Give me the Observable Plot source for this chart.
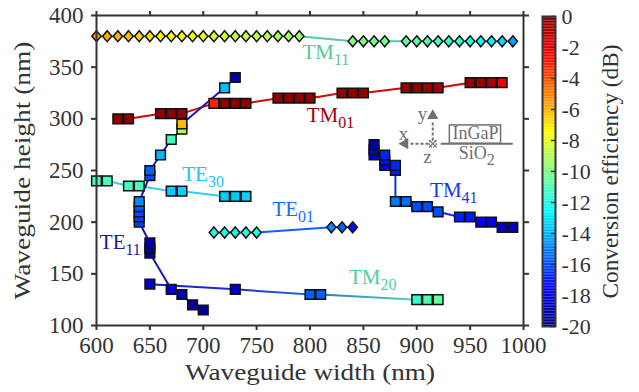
<!DOCTYPE html>
<html>
<head>
<meta charset="utf-8">
<script src="https://cdn.jsdelivr.net/npm/d3@7"></script>
<script src="https://cdn.jsdelivr.net/npm/@observablehq/plot@0.6"></script>
<style>
  html, body { margin: 0; padding: 0; background: #fff; }
  #wrap { position: relative; width: 639px; height: 392px; }
</style>
</head>
<body>
<div id="wrap"></div>
<script>
// ---------------- data ----------------
// TM11 (diamonds)
const TM11_w  = [600,610,620,630,640,650,660,670,680,690,700,710,720,730,740,750,760,770,780,790, 840,850,860,870, 890,900,910,920,930,940,950,960,970,980,990];
const TM11_h  = [380,380,380,380,380,380,380,380,380,380,380,380,380,380,380,380,380,380,380,380, 375,375,375,375, 375,375,375,375,375,375,375,375,375,375,375];
const TM11_dB = [-5.6,-5.8,-6.0,-6.2,-6.6,-6.8,-7.2,-7.4,-7.6,-7.8,-8.0,-8.2,-8.4,-8.6,-8.7,-8.9,-9.0,-9.1,-9.3,-9.4, -10.0,-10.1,-10.2,-10.4, -10.6,-10.8,-11.0,-11.2,-11.4,-11.7,-12.0,-12.3,-12.7,-13.2,-14.3];
// TM01 (squares)
const TM01_w  = [620,630,660,670,680,710,720,730,740,770,780,790,800,830,840,850,890,900,910,920,950,960,970,980];
const TM01_h  = [300,300,305,305,305,315,315,315,315,320,320,320,320,325,325,325,330,330,330,330,335,335,335,335];
const TM01_dB = [-0.3,-0.3,-0.3,-0.3,-0.4,-3.1,-0.3,-0.3,-0.3,-0.3,-0.3,-0.3,-0.3,-0.3,-0.3,-0.4,-0.4,-0.4,-0.5,-0.6,-0.4,-0.5,-0.8,-2.2];
// TE30 (squares)
const TE30_w  = [600,610,630,640,670,680,720,730,740];
const TE30_h  = [240,240,235,235,230,230,225,225,225];
const TE30_dB = [-11.2,-11.1,-11.2,-11.1,-13.5,-13.4,-13.5,-13.5,-13.4];
// TE11 (squares)
const TE11_w  = [700,690,680,670,650,650,650,640,640,640,640,640,650,650,660,670,680,680,720,730];
const TE11_h  = [115,120,130,135,170,175,180,200,205,210,215,220,245,250,265,280,290,295,330,340];
const TE11_dB = [-19.7,-19.4,-19.0,-18.1,-19.4,-19.3,-19.2,-16.2,-16.2,-16.0,-15.8,-14.8,-16.0,-15.6,-14.0,-11.2,-9.1,-6.1,-13.8,-19.1];
// TE01 (diamonds)
const TE01_w  = [710,720,730,740,750,820,830,840];
const TE01_h  = [190,190,190,190,190,195,195,195];
const TE01_dB = [-11.9,-11.9,-11.9,-11.9,-11.9,-14.8,-15.6,-17.2];
// TM20 (squares)
const TM20_w  = [650,730,800,810,900,910,920];
const TM20_h  = [140,135,130,130,125,125,125];
const TM20_dB = [-18.6,-18.6,-15.6,-15.6,-11.6,-11.0,-10.6];
// TM41 (squares)
const TM41_w  = [860,860,860,870,870,870,880,880,880,890,900,910,920,940,950,960,970,980,990];
const TM41_h  = [265,270,275,255,260,265,250,255,220,220,215,215,210,205,205,200,200,195,195];
const TM41_dB = [-18.6,-18.8,-19.2,-17.5,-17.2,-16.8,-17.0,-16.7,-15.1,-15.3,-16.0,-16.0,-16.0,-16.8,-17.0,-17.6,-17.8,-18.6,-18.8];

// mode labels
const labelText = ["TM_11","TM_01","TE_30","TE_01","TE_11","TM_20","TM_41"];
const labelX    = [792.9, 796.9, 680.3, 764.7, 603.1, 836.5, 912.5];
const labelY    = [358.1, 296.7, 240.3, 205.5, 174.2, 139.7, 224.8];

// axes
const xTicks  = [600,650,700,750,800,850,900,950,1000];
const yTicks  = [100,150,200,250,300,350,400];
const cbTicks = [0,-2,-4,-6,-8,-10,-12,-14,-16,-18,-20];
const xTitle = "Waveguide width (nm)";
const yTitle = "Waveguide height (nm)";
const cTitle = "Conversion efficiency (dB)";

// ---------------- styles ----------------
const labelColor = ["#5cc98e","#a80000","#20c4f4","#1a6cff","#1a1a99","#4fd0a0","#1a35e6"];
const lineColor = {TM11:"#55c9a5", TM01:"#cc0a0a", TE30:"#2cd4e6", TE11:"#1818b0", TE01:"#0a60ff", TM41:"#1030e0"};
const gray = "#707070";
const axisColor = "#333";
const FONT = "Liberation Serif";
const titleLength = {[xTitle]: 250, [yTitle]: 258, [cTitle]: 254};

// jet colormap
function jet(t) {
  const c = v => Math.max(0, Math.min(1, v));
  const r = c(1.5 - Math.abs(4*t - 3)), g = c(1.5 - Math.abs(4*t - 2)), b = c(1.5 - Math.abs(4*t - 1));
  return `rgb(${Math.round(r*255)},${Math.round(g*255)},${Math.round(b*255)})`;
}
const colorScale = {type: "linear", domain: [-20, 0], interpolate: jet};

const rows = (w, h, v) => w.map((x, i) => ({w: x, h: h[i], dB: v[i]}));
const TM11 = rows(TM11_w, TM11_h, TM11_dB);
const TM01 = rows(TM01_w, TM01_h, TM01_dB);
const TE30 = rows(TE30_w, TE30_h, TE30_dB);
const TE11 = rows(TE11_w, TE11_h, TE11_dB);
const TE01 = rows(TE01_w, TE01_h, TE01_dB);
const TM20 = rows(TM20_w, TM20_h, TM20_dB);
const TM41 = rows(TM41_w, TM41_h, TM41_dB);

// narrow diamond symbol
const diamond = {
  draw(ctx, size) {
    const r = Math.sqrt(size / Math.PI);
    const w = r * 0.93, h = r * 1.1;
    ctx.moveTo(0, -h); ctx.lineTo(w, 0); ctx.lineTo(0, h); ctx.lineTo(-w, 0); ctx.closePath();
  }
};

const sq = (data) => Plot.dot(data, {x: "w", y: "h", fill: "dB", symbol: "square", r: 5.5, stroke: "#111", strokeWidth: 1.5});
const dm = (data) => Plot.dot(data, {x: "w", y: "h", fill: "dB", symbol: diamond, r: 5, stroke: "#111", strokeWidth: 1.5});
const ln = (data, color) => Plot.line(data, {x: "w", y: "h", stroke: color, strokeWidth: 2});

const gradDefs = () => {
  const defs = d3.create("svg:defs");
  const g = defs.append("linearGradient").attr("id", "tm20grad").attr("x1", "0").attr("x2", "1").attr("y1", "0").attr("y2", "0");
  [[0,"#1a1ad0"],[0.3,"#1a30c8"],[0.56,"#2a70d0"],[0.93,"#50d8a0"],[1,"#50d8a0"]]
    .forEach(([o,c]) => g.append("stop").attr("offset", o).attr("stop-color", c));
  return defs.node();
};

// inset schematic origin (data coordinates)
const inset = {ox: 915, oy: 276};

const main = Plot.plot({
  width: 639, height: 392,
  marginLeft: 96, marginRight: 116, marginTop: 15, marginBottom: 67,
  style: {fontFamily: FONT, fontSize: "23px", color: axisColor, background: "transparent"},
  x: {domain: [600, 1000]},
  y: {domain: [100, 400]},
  color: colorScale,
  marks: [
    gradDefs,
    ln(TM11, lineColor.TM11),
    ln(TM01, lineColor.TM01),
    ln(TE30, lineColor.TE30),
    ln(TE11, lineColor.TE11),
    ln(TE01, lineColor.TE01),
    ln(TM20, "url(#tm20grad)"),
    ln(TM41, lineColor.TM41),
    dm(TM11), sq(TM01), sq(TE30), sq(TE11), dm(TE01), sq(TM20), sq(TM41),
    ...labelText.map((t, i) => Plot.text([i], {x: j => labelX[j], y: j => labelY[j], text: j => labelText[j],
      fill: labelColor[i], textAnchor: "start", lineAnchor: "bottom", fontSize: 21})),
    // inset schematic
    Plot.link([0], {x1: inset.ox, y1: inset.oy + 3, x2: inset.ox, y2: inset.oy + 21, stroke: gray, strokeWidth: 2, strokeDasharray: "3,2"}),
    Plot.dot([0], {x: inset.ox, y: inset.oy + 27, symbol: "triangle", r: 4.2, fill: gray, stroke: "none"}),
    Plot.link([0], {x1: inset.ox - 4, y1: inset.oy, x2: inset.ox - 22, y2: inset.oy, stroke: gray, strokeWidth: 2, strokeDasharray: "3,2"}),
    Plot.dot([0], {x: inset.ox - 26, y: inset.oy, symbol: "triangle", rotate: -90, r: 4.2, fill: gray, stroke: "none"}),
    Plot.dot([0], {x: inset.ox, y: inset.oy, r: 3.5, fill: "white", stroke: gray, strokeWidth: 1.2, strokeDasharray: "2,1"}),
    Plot.dot([0], {x: inset.ox, y: inset.oy, symbol: "times", r: 3.5, stroke: gray, strokeWidth: 1.2}),
    Plot.link([0], {x1: inset.ox + 7.5, y1: inset.oy, x2: inset.ox + 75, y2: inset.oy, stroke: gray, strokeWidth: 2}),
    Plot.rect([0], {x1: inset.ox + 16, x2: inset.ox + 64, y1: inset.oy, y2: inset.oy + 17.6, fill: "white", stroke: gray, strokeWidth: 1.5}),
    Plot.text(["y"], {x: inset.ox - 9.7, y: inset.oy + 29, fill: gray, fontSize: 19}),
    Plot.text(["x"], {x: inset.ox - 27.5, y: inset.oy + 9.5, fill: gray, fontSize: 19}),
    Plot.text(["z"], {x: inset.ox - 5, y: inset.oy - 13, fill: gray, fontSize: 19}),
    Plot.text(["InGaP"], {x: inset.ox + 18.5, y: inset.oy + 4.5, fill: gray, fontSize: 18, textAnchor: "start", lineAnchor: "bottom"}),
    Plot.text(["SiO_2"], {x: inset.ox + 24.4, y: inset.oy - 14.4, fill: gray, fontSize: 18, textAnchor: "start", lineAnchor: "bottom"}),
    // frame & axes
    Plot.frame({stroke: axisColor, strokeWidth: 2}),
    Plot.axisX({anchor: "bottom", ticks: xTicks, tickSize: 5, tickPadding: 6, strokeWidth: 2, stroke: axisColor, label: null, tickFormat: d => String(d)}),
    Plot.axisX({anchor: "top", ticks: xTicks, tickSize: 5, strokeWidth: 2, stroke: axisColor, label: null, tickFormat: () => ""}),
    Plot.axisY({anchor: "left", ticks: yTicks, tickSize: 5, tickPadding: 8, strokeWidth: 2, stroke: axisColor, label: null, tickFormat: d => String(d)}),
    Plot.axisY({anchor: "right", ticks: yTicks, tickSize: 5, strokeWidth: 2, stroke: axisColor, label: null, tickFormat: () => ""}),
    Plot.text([xTitle], {frameAnchor: "bottom", dy: 54, textAnchor: "middle", fill: axisColor, fontSize: 23}),
    Plot.text([yTitle], {frameAnchor: "left", dx: -74, rotate: -90, textAnchor: "middle", fill: axisColor, fontSize: 23})
  ]
});

const cb = Plot.plot({
  width: 99, height: 392,
  marginLeft: 2, marginRight: 84, marginTop: 16, marginBottom: 66,
  style: {fontFamily: FONT, fontSize: "22px", color: axisColor, background: "transparent"},
  x: {domain: [0, 1], axis: null},
  y: {domain: [-20, 0], axis: null},
  color: colorScale,
  marks: [
    Plot.rect(d3.range(-20, 0, 0.1), {x1: 0, x2: 1, y1: d => d, y2: d => d + 0.1 + 1e-3, fill: d => d + 0.05}),
    Plot.frame({stroke: axisColor, strokeWidth: 2}),
    Plot.tickY(cbTicks, {y: d => d, insetLeft: 9, stroke: axisColor, strokeWidth: 1.5}),
    Plot.axisY({anchor: "right", ticks: cbTicks, tickSize: 0, tickPadding: 6, label: null, tickFormat: d => String(d)}),
    Plot.text([cTitle], {frameAnchor: "right", dx: 55, rotate: -90, textAnchor: "middle", fill: axisColor, fontSize: 23})
  ]
});

// subscripts
function subscripts(svg) {
  svg.querySelectorAll("text").forEach(t => {
    const s = t.textContent;
    if (!s.includes("_")) return;
    const [a, b] = s.split("_");
    const fs = parseFloat(t.getAttribute("font-size") || getComputedStyle(t).fontSize) || 21;
    t.textContent = "";
    const ns = "http://www.w3.org/2000/svg";
    const t1 = document.createElementNS(ns, "tspan"); t1.textContent = a;
    const t2 = document.createElementNS(ns, "tspan"); t2.textContent = b;
    t2.setAttribute("font-size", Math.round(fs * 0.76));
    t2.setAttribute("dy", Math.round(fs * 0.3));
    t.appendChild(t1); t.appendChild(t2);
  });
}
subscripts(main);

const wrap = document.getElementById("wrap");
main.style.position = "absolute"; main.style.left = "0px"; main.style.top = "0px";
cb.style.position = "absolute"; cb.style.left = "540px"; cb.style.top = "0px";
wrap.appendChild(main);
wrap.appendChild(cb);

// widen the axis titles to the reference's (wider serif) text lengths
wrap.querySelectorAll("text").forEach(t => {
  const L = titleLength[t.textContent];
  if (L) { t.setAttribute("textLength", L); t.setAttribute("lengthAdjust", "spacingAndGlyphs"); }
});
</script>
</body>
</html>
